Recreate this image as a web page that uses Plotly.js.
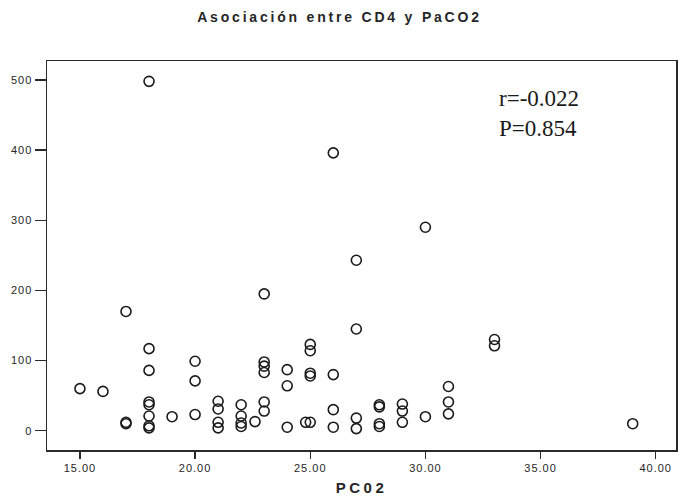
<!DOCTYPE html>
<html>
<head>
<meta charset="utf-8">
<script src="https://cdn.plot.ly/plotly-3.0.1.min.js"></script>
<style>
  html, body { margin: 0; padding: 0; background: #fff; }
  #chart { width: 679px; height: 502px; }
  .gtitle { letter-spacing: 2.8px; }
  .xtitle { letter-spacing: 3.5px; }
  .xtick text, .ytick text { letter-spacing: 1px; }
</style>
</head>
<body>
<div id="chart"></div>
<script>
// PaCO2 values (x) and CD4 counts (y)
const paco2 = [
  15, 16, 17, 17, 17,
  18, 18, 18, 18, 18, 18, 18, 18,
  19,
  20, 20, 20,
  21, 21, 21, 21,
  22, 22, 22, 22, 22.6,
  23, 23, 23, 23, 23, 23,
  24, 24, 24, 24.8,
  25, 25, 25, 25, 25,
  26, 26, 26, 26,
  27, 27, 27, 27,
  28, 28, 28, 28,
  29, 29, 29,
  30, 30,
  31, 31, 31,
  33, 33,
  39
];
const cd4 = [
  60, 56, 170, 12, 10,
  498, 117, 86, 41, 37, 21, 7, 4,
  20,
  99, 71, 23,
  42, 31, 12, 4,
  37, 21, 11, 6, 13,
  195, 98, 92, 83, 41, 28,
  87, 64, 5, 12,
  12, 123, 114, 82, 78,
  396, 80, 30, 5,
  243, 145, 18, 3,
  37, 34, 10, 6,
  38, 28, 12,
  290, 20,
  63, 41, 24,
  130, 121,
  10
];
const xTickVals = [15, 20, 25, 30, 35, 40];
const xTickText = ["15.00", "20.00", "25.00", "30.00", "35.00", "40.00"];
const yTickVals = [0, 100, 200, 300, 400, 500];
const titleText = "Asociación entre CD4 y PaCO2";
const xTitleText = "PC02";
const statsText = "r=-0.022<br>P=0.854";

const axisColor = "#2a2a2a";
const textColor = "#262626";

const trace = {
  x: paco2,
  y: cd4,
  type: "scatter",
  mode: "markers",
  marker: {
    symbol: "circle-open",
    size: 10,
    color: "#1a1a1a",
    line: { width: 1.6, color: "#1a1a1a" }
  },
  hoverinfo: "x+y"
};

const layout = {
  width: 679,
  height: 502,
  margin: { l: 47, r: 3, t: 61, b: 52 },
  paper_bgcolor: "#ffffff",
  plot_bgcolor: "#ffffff",
  showlegend: false,
  title: {
    text: "<b>" + titleText + "</b>",
    font: { family: "Liberation Sans, Arial, sans-serif", size: 14, color: textColor },
    x: 0.5, xref: "container", xanchor: "center",
    y: 1 - 17 / 502, yref: "container", yanchor: "middle"
  },
  xaxis: {
    range: [13.57, 40.88],
    tickvals: xTickVals,
    ticktext: xTickText,
    ticks: "outside",
    ticklen: 7,
    tickwidth: 1.5,
    tickcolor: axisColor,
    showline: true,
    linecolor: axisColor,
    linewidth: 1.5,
    mirror: true,
    showgrid: false,
    zeroline: false,
    tickfont: { family: "Liberation Sans, Arial, sans-serif", size: 11, color: textColor },
    title: {
      text: "<b>" + xTitleText + "</b>",
      font: { family: "Liberation Sans, Arial, sans-serif", size: 15, color: textColor },
      standoff: 10
    }
  },
  yaxis: {
    range: [-27.5, 527],
    tickvals: yTickVals,
    ticks: "outside",
    ticklen: 11,
    tickwidth: 1.5,
    tickcolor: axisColor,
    showline: true,
    linecolor: axisColor,
    linewidth: 1.5,
    mirror: true,
    showgrid: false,
    zeroline: false,
    tickfont: { family: "Liberation Sans, Arial, sans-serif", size: 11, color: textColor }
  },
  annotations: [{
    text: statsText,
    xref: "paper", yref: "paper",
    x: 0.715, y: 0.864,
    xanchor: "left", yanchor: "middle",
    align: "left",
    showarrow: false,
    font: { family: "Liberation Serif, Times New Roman, serif", size: 23, color: "#1a1a1a" }
  }]
};

Plotly.newPlot("chart", [trace], layout, { displayModeBar: false, staticPlot: true });
</script>
</body>
</html>
